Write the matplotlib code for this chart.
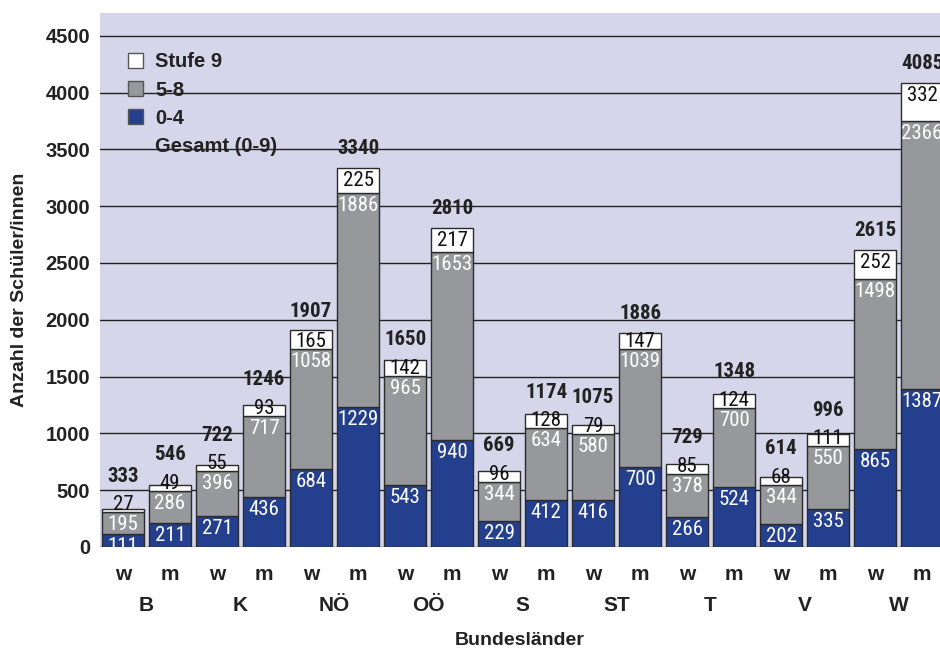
import matplotlib
matplotlib.use("Agg")
import matplotlib.pyplot as plt
from matplotlib import font_manager
from matplotlib.patches import Patch

# Anzahl der Schüler/innen nach Bundesland und Geschlecht
states = ["B", "K", "NÖ", "OÖ", "S", "ST", "T", "V", "W"]
sexes = ["w", "m"]
stufe_0_4 = [111, 211, 271, 436, 684, 1229, 543, 940, 229, 412,
             416, 700, 266, 524, 202, 335, 865, 1387]
stufe_5_8 = [195, 286, 396, 717, 1058, 1886, 965, 1653, 344, 634,
             580, 1039, 378, 700, 344, 550, 1498, 2366]
stufe_9 = [27, 49, 55, 93, 165, 225, 142, 217, 96, 128,
           79, 147, 85, 124, 68, 111, 252, 332]
gesamt = [333, 546, 722, 1246, 1907, 3340, 1650, 2810, 669, 1174,
          1075, 1886, 729, 1348, 614, 996, 2615, 4085]
yticks = [0, 500, 1000, 1500, 2000, 2500, 3000, 3500, 4000, 4500]

blue = "#243f8e"
grey = "#97989c"
bg = "#d5d6e9"
edge = "#2b2b2b"

have = {f.name for f in font_manager.fontManager.ttflist}
main_font = "Liberation Sans" if "Liberation Sans" in have else "DejaVu Sans"
num_font, num_size = main_font, 13.5
for cand in ["Liberation Sans Narrow", "Roboto Condensed", "DejaVu Sans Condensed"]:
    if cand in have:
        num_font, num_size = cand, 15
        break
plt.rcParams["font.family"] = [main_font, "DejaVu Sans"]

fig = plt.figure(figsize=(9.4, 6.49), dpi=100)
ax = fig.add_axes([100 / 940, 102 / 649, 840 / 940, 534 / 649])
ax.set_facecolor(bg)
ymax = 4700
ax.set_ylim(0, ymax)
ax.set_xlim(-0.49, 17.38)
upp = ymax / 534.0  # data units per pixel

x = list(range(len(gesamt)))
bottom2 = [a + b for a, b in zip(stufe_0_4, stufe_5_8)]
ax.bar(x, stufe_0_4, 0.9, color=blue, edgecolor=edge, linewidth=1, zorder=3)
ax.bar(x, stufe_5_8, 0.9, bottom=stufe_0_4, color=grey, edgecolor=edge,
       linewidth=1, zorder=3)
ax.bar(x, stufe_9, 0.9, bottom=bottom2, color="white", edgecolor=edge,
       linewidth=1, zorder=3)

for v in yticks:
    ax.axhline(v, color="#222222", lw=1, zorder=1)

for i in x:
    b, g, s, t = stufe_0_4[i], stufe_5_8[i], stufe_9[i], gesamt[i]
    ax.text(i, b - 18 * upp, str(b), ha="center", va="baseline", color="white",
            family=num_font, fontsize=num_size, zorder=4)
    ax.text(i, b + g - 18 * upp, str(g), ha="center", va="baseline",
            color="white", family=num_font, fontsize=num_size, zorder=4)
    ys = max(t - 18 * upp, b + g + 2 * upp)
    ax.text(i, ys, str(s), ha="center", va="baseline", color="#111111",
            family=num_font, fontsize=num_size, zorder=4)
    yt = max(t, ys + 15 * upp) + 13.5 * upp
    ax.text(i, yt, str(t), ha="center", va="baseline", color="#222222",
            family=num_font, fontsize=num_size, fontweight="bold", zorder=4)

ax.set_yticks(yticks)
ax.set_yticklabels([str(v) for v in yticks], fontsize=14.5, fontweight="bold",
                   color="#222222")
ax.tick_params(axis="y", length=0, pad=7)
ax.set_xticks([])
for sp in ax.spines.values():
    sp.set_visible(False)

tr = ax.get_xaxis_transform()
for i in x:
    ax.text(i, -0.052, sexes[i % 2], transform=tr, ha="center", va="center",
            fontsize=15, fontweight="bold", color="#222222")
for k, st in enumerate(states):
    ax.text(2 * k + 0.5, -0.11, st, transform=tr, ha="center", va="center",
            fontsize=15, fontweight="bold", color="#222222")
ax.text(0.5, -0.175, "Bundesländer", transform=ax.transAxes, ha="center",
        va="center", fontsize=14, fontweight="bold", color="#222222")
ax.text(-0.096, 0.482, "Anzahl der Schüler/innen", transform=ax.transAxes,
        ha="center", va="center", rotation=90, fontsize=14, fontweight="bold",
        color="#222222")

handles = [Patch(facecolor="white", edgecolor="#555555"),
           Patch(facecolor=grey, edgecolor="#555555"),
           Patch(facecolor=blue, edgecolor="#555555"),
           Patch(facecolor="none", edgecolor="none")]
labels = ["Stufe 9", "5-8", "0-4", "Gesamt (0-9)"]
ax.legend(handles, labels, loc="upper left", bbox_to_anchor=(0.012, 0.96),
          frameon=False, handlelength=0.75, handleheight=0.75,
          handletextpad=0.6, labelspacing=0.45,
          prop={"size": 14.5, "weight": "bold"}, labelcolor="#222222")

fig.savefig("out.png", dpi=100)
